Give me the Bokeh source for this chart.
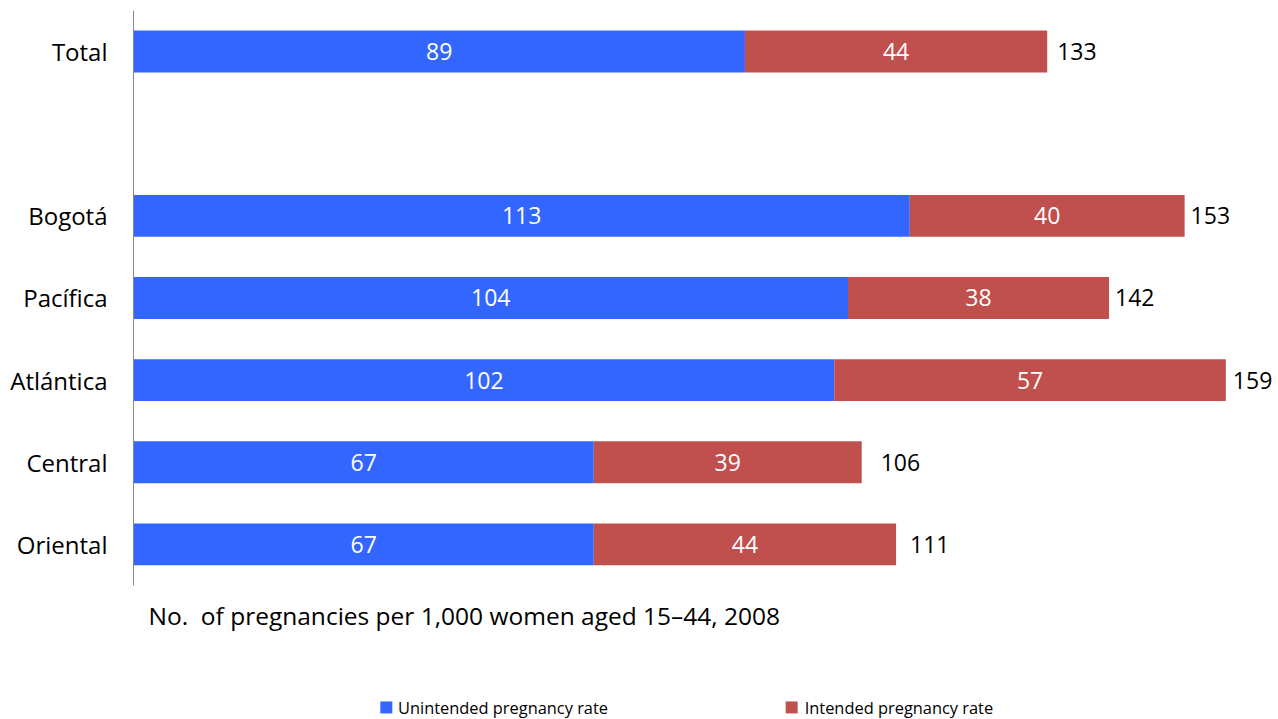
from bokeh.plotting import figure
from bokeh.models import Range1d, ColumnDataSource, LabelSet, FixedTicker
from bokeh.core.properties import value
from bokeh.embed import file_html
from bokeh.resources import INLINE

categories = ["Total", "Bogotá", "Pacífica", "Atlántica", "Central", "Oriental"]
unintended = [89, 113, 104, 102, 67, 67]
intended = [44, 40, 38, 57, 39, 44]
totals = [133, 153, 142, 159, 106, 111]
series_names = ["Unintended pregnancy rate", "Intended pregnancy rate"]
axis_title = "No.\u00a0 of pregnancies per 1,000 women aged 15\u201344, 2008"

# styling
total_label_offsets = [10, 6, 6, 7, 19, 14]
BLUE = "#3366FF"
RED = "#C0504D"
FONT = "Open Sans"

# row slots: Total on top, an empty slot, then the regions
ypos = [0] + [i + 2 for i in range(len(categories) - 1)]

src = ColumnDataSource(dict(
    y=ypos,
    unint=unintended,
    tot=[u + i for u, i in zip(unintended, intended)],
    tot_label=[str(t) for t in totals],
    mid_u=[u / 2 for u in unintended],
    mid_i=[u + i / 2 for u, i in zip(unintended, intended)],
    u_label=[str(u) for u in unintended],
    i_label=[str(i) for i in intended],
    off=total_label_offsets,
))

PX_X = 6.87  # pixels per unit on x
x0 = -1 / PX_X
p = figure(width=1278, height=719, output_backend="svg", toolbar_location=None,
           x_range=Range1d(x0, x0 + 1146 / PX_X), y_range=Range1d(8.132, -0.5),
           x_axis_location=None,
           min_border_left=132, min_border_right=0, min_border_top=10, min_border_bottom=0)
p.outline_line_color = None
p.grid.grid_line_color = None
p.background_fill_color = "white"
p.border_fill_color = "white"

r1 = p.hbar(y="y", left=0, right="unint", height=0.51, source=src,
            fill_color=BLUE, line_color=None)
r2 = p.hbar(y="y", left="unint", right="tot", height=0.51, source=src,
            fill_color=RED, line_color=None)

# category axis line
p.segment(x0=[0], y0=[-0.5], x1=[0], y1=[6.5], line_color="#868686", line_width=1)

for xf, tf in [("mid_u", "u_label"), ("mid_i", "i_label")]:
    p.add_layout(LabelSet(x=xf, y="y", text=tf, source=src, text_align="center",
                          text_baseline="middle", text_color="white", text_font=value(FONT),
                          text_font_size="23px"))
p.add_layout(LabelSet(x="tot", y="y", text="tot_label", source=src, x_offset="off",
                      text_align="left", text_baseline="middle", text_color="black",
                      text_font=value(FONT), text_font_size="23px"))

ax = p.yaxis[0]
ax.ticker = FixedTicker(ticks=ypos)
ax.major_label_overrides = {y: c for y, c in zip(ypos, categories)}
ax.axis_line_color = None
ax.major_tick_line_color = None
ax.minor_tick_line_color = None
ax.major_tick_out = 0
ax.major_tick_in = 0
ax.major_label_standoff = 25
ax.major_label_text_font = FONT
ax.major_label_text_font_size = "24px"
ax.major_label_text_color = "black"

# value-axis title below the bars
p.text(x=[2.18], y=[6.866], text=[axis_title], text_font=value(FONT), text_font_size="24.5px",
       text_baseline="middle", text_align="left", text_color="black")

# legend
leg_y = 7.985
p.scatter(x=[36.8, 95.8], y=[leg_y, leg_y], marker="square", size=12,
          fill_color=[BLUE, RED], line_color=None)
p.text(x=[38.5, 97.7], y=[leg_y, leg_y], text=series_names, text_font=value(FONT),
       text_font_size="16.4px", text_baseline="middle", text_align="left", text_color="black")

open("out.html", "w").write(file_html(p, INLINE))
